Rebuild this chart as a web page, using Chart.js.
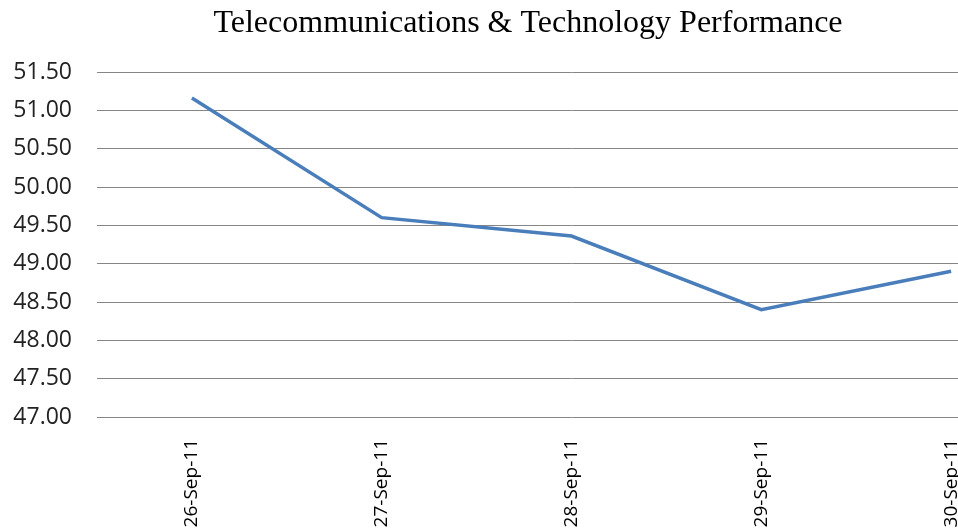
<!DOCTYPE html>
<html>
<head>
<meta charset="utf-8">
<script src="https://cdn.jsdelivr.net/npm/chart.js@4/dist/chart.umd.min.js"></script>
<style>
html,body{margin:0;padding:0;overflow:hidden;background:#fff;width:958px;height:528px;}
canvas{display:block;}
</style>
</head>
<body>
<canvas id="c" width="1046" height="560"></canvas>
<script>
const categories = ["26-Sep-11", "27-Sep-11", "28-Sep-11", "29-Sep-11", "30-Sep-11"];
const values = [51.16, 49.60, 49.36, 48.40, 48.90];
const yMin = 47.0, yMax = 51.5, yStep = 0.5;
const titleText = "Telecommunications & Technology Performance";

const CH = 560, AREA_BOTTOM = 417, PAD_LEFT = 10, AREA_LEFT = 97;

new Chart(document.getElementById('c'), {
  type: 'line',
  data: {
    labels: categories,
    datasets: [{
      data: values,
      borderColor: '#4A7EBB',
      borderWidth: 3.5,
      pointRadius: 0,
      tension: 0,
      fill: false
    }]
  },
  options: {
    responsive: false,
    animation: false,
    devicePixelRatio: 1,
    layout: { padding: { left: PAD_LEFT, right: 0, top: 0, bottom: 0 } },
    plugins: {
      legend: { display: false },
      tooltip: { enabled: false },
      title: {
        display: true,
        text: titleText,
        color: '#000',
        font: { family: 'Liberation Serif', size: 32, weight: 'normal' },
        padding: { top: 4, bottom: 29.6 }
      }
    },
    scales: {
      x: {
        offset: true,
        grid: { display: false, drawTicks: false },
        border: { display: false },
        ticks: {
          maxRotation: 90, minRotation: 90, autoSkip: false,
          padding: 22,
          color: '#000',
          font: { family: 'Open Sans', size: 19 }
        },
        afterFit: (s) => { s.height = CH - AREA_BOTTOM; }
      },
      y: {
        min: yMin, max: yMax,
        grid: { color: '#868686', lineWidth: 1, drawTicks: false },
        border: { display: false },
        ticks: {
          stepSize: yStep,
          padding: 25,
          color: '#222',
          font: { family: 'Open Sans', size: 23 },
          callback: (v) => Number(v).toFixed(2)
        },
        afterFit: (s) => { s.width = AREA_LEFT - PAD_LEFT; }
      }
    }
  }
});
</script>
</body>
</html>
